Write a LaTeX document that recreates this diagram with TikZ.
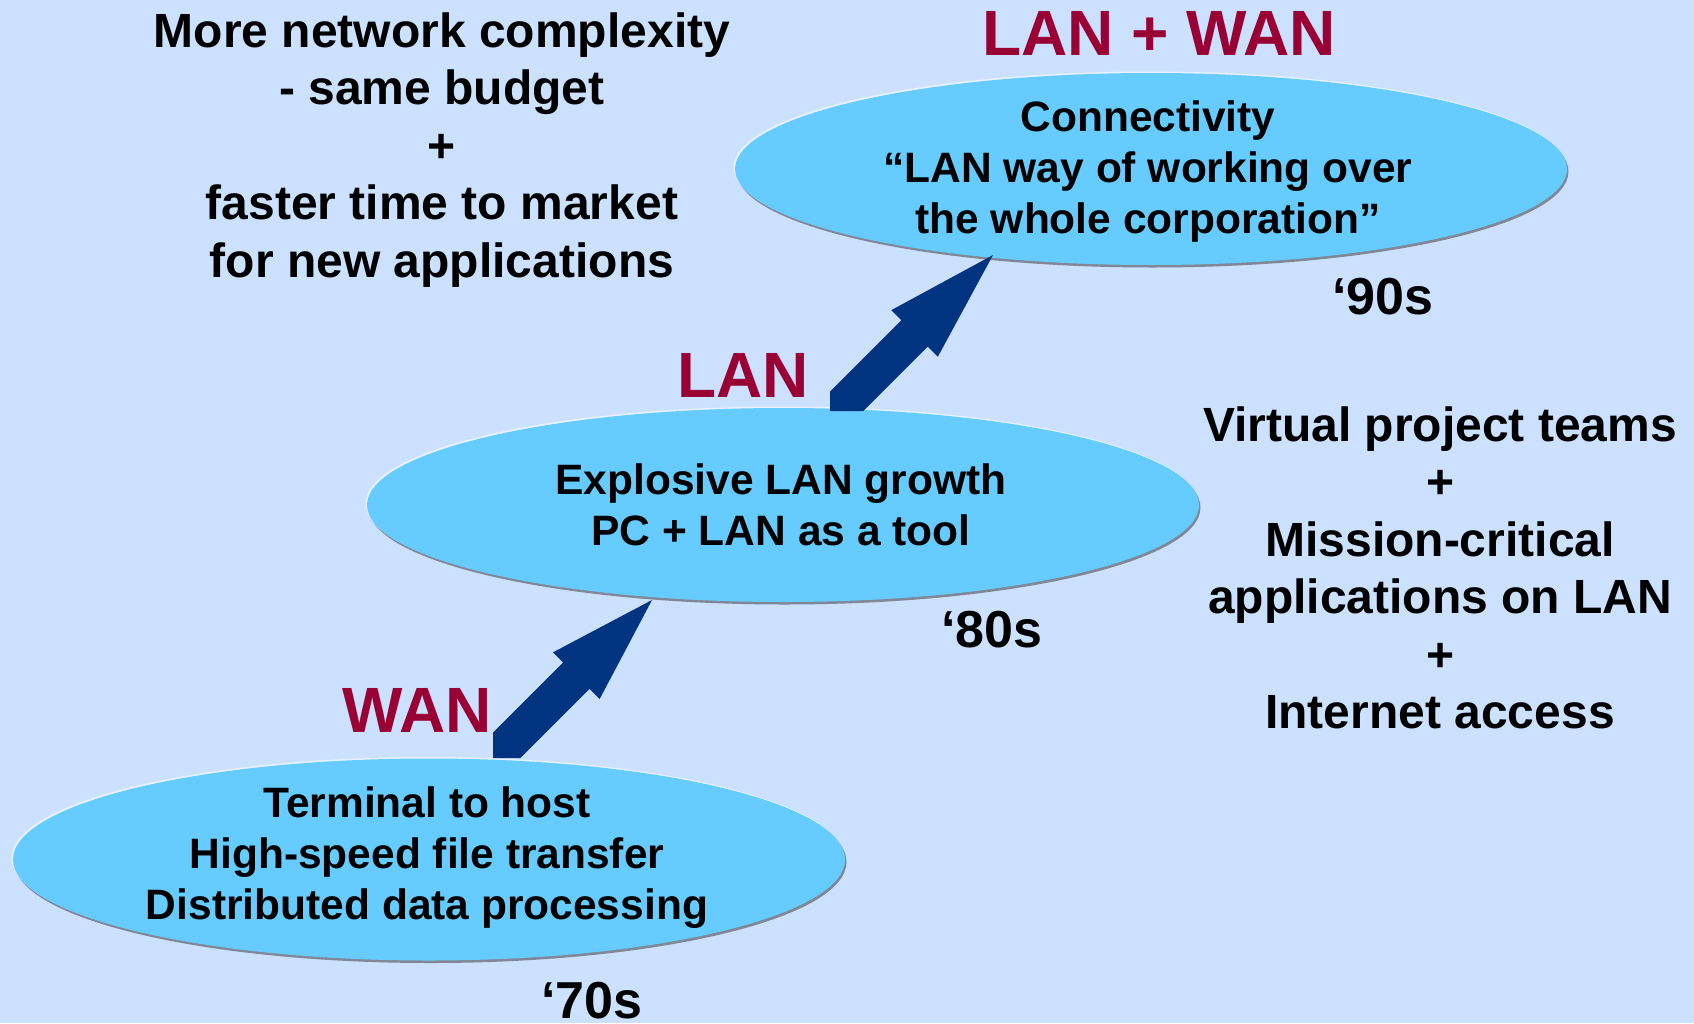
\documentclass[tikz,border=0pt]{standalone}
\usepackage{fontspec}
\setmainfont{Liberation Sans}
\usetikzlibrary{calc}

\definecolor{bgblue}{RGB}{204,224,255}
\definecolor{bubblefill}{RGB}{102,204,255}
\definecolor{arrowblue}{RGB}{0,51,128}
\definecolor{eraRed}{RGB}{153,0,51}
\definecolor{rimShadow}{RGB}{128,136,150}
\definecolor{rimLight}{RGB}{232,243,255}

\tikzset{
  every node/.style={inner sep=0pt},
  bodytext/.style={align=center, font=\fontsize{42.5}{51}\bfseries\selectfont},
  notetext/.style={align=center, font=\fontsize{48}{57.5}\bfseries\selectfont},
  eralabel/.style={text=eraRed, font=\fontsize{64}{70}\bfseries\selectfont},
  decade/.style={font=\fontsize{52}{60}\bfseries\selectfont},
  blockarrow/.style={fill=arrowblue},
}

% a raised oval: dark rim below right, light rim above left, then the fill
\newcommand\bubble[5]{%
  \fill[rimShadow] (#2+1.5,#3+2.5) ellipse [x radius=#4, y radius=#5];
  \fill[rimLight]  (#2-1.5,#3-1.5) ellipse [x radius=#4, y radius=#5];
  \fill[bubblefill] (#2,#3) ellipse [x radius=#4, y radius=#5];
  \coordinate (#1) at (#2,#3);
}

\begin{document}
\begin{tikzpicture}[x=1pt,y=-1pt]
\useasboundingbox (0,0) rectangle (1694,1023);
\fill[bgblue] (0,0) rectangle (1694,1023);

% the three eras
\bubble{e70}{429}{859.5}{416}{101}
\bubble{e80}{783}{505}{416}{97}
\bubble{e90}{1151}{169}{416}{96}

\node[bodytext] (t70) at ($(e70)+(-2,-1.5)$)
  {Terminal to host\\High-speed file transfer\\Distributed data processing};
\node[bodytext] (t80) at ($(e80)+(-2,0)$)
  {Explosive LAN growth\\PC + LAN as a tool};
\node[bodytext] (t90) at ($(e90)+(-3,2.5)$)
  {Connectivity\\“LAN way of working over\\the whole corporation”};

% block arrows between the eras
\coordinate (tip1) at (652,600);
\fill[blockarrow] (tip1)
  -- ($(tip1)+(-52.33,98.99)$) -- ($(tip1)+(-62.46,88.86)$)
  -- ($(tip1)+(-131.6,158)$) -- ($(tip1)+(-159,158)$)
  -- ($(tip1)+(-159,132.6)$) -- ($(tip1)+(-88.86,62.46)$)
  -- ($(tip1)+(-98.99,52.33)$) -- cycle;

\coordinate (tip2) at (993,255);
\fill[blockarrow] (tip2)
  -- ($(tip2)+(-55.19,101.79)$) -- ($(tip2)+(-65.29,91.69)$)
  -- ($(tip2)+(-129.6,156)$) -- ($(tip2)+(-163,156)$)
  -- ($(tip2)+(-163,136.6)$) -- ($(tip2)+(-91.69,65.29)$)
  -- ($(tip2)+(-101.79,55.19)$) -- cycle;

% network labels
\node[eralabel] (wan) at (417,710) {WAN};
\node[eralabel] (lan) at (743,375) {LAN};
\node[eralabel] (lanwan) at (1159,33) {LAN + WAN};

% decades
\node[decade] (d70) at (592,1000.5) {‘70s};
\node[decade] (d80) at (992,630) {‘80s};
\node[decade] (d90) at (1383,297) {‘90s};

% side notes
\node[notetext] (drivers) at (442,150)
  {More network complexity\\- same budget\\+\\faster time to market\\for new applications};
\node[notetext] (needs) at (1440,568)
  {Virtual project teams\\+\\Mission-critical\\applications on LAN\\+\\Internet access};
\end{tikzpicture}
\end{document}
